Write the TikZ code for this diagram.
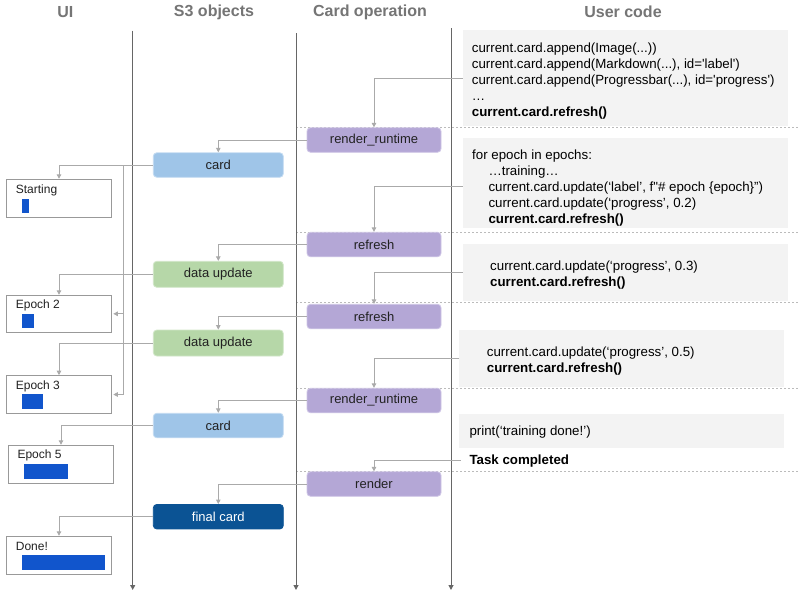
\documentclass[tikz,border=0pt]{standalone}
\usepackage{fontspec}
\usetikzlibrary{arrows.meta}
\newfontfamily\af{Liberation Sans}
\definecolor{purp}{HTML}{B4A7D6}
\definecolor{purpedge}{HTML}{CFC6E6}
\definecolor{cardblue}{HTML}{9FC5E8}
\definecolor{cardedge}{HTML}{C4DCF2}
\definecolor{dugreen}{HTML}{B6D7A8}
\definecolor{duedge}{HTML}{D2E7C9}
\definecolor{finalblue}{HTML}{0B5394}
\definecolor{barblue}{HTML}{1155CC}
\definecolor{conngray}{HTML}{AAAAAA}
\definecolor{axisgray}{HTML}{666666}
\definecolor{dashgray}{HTML}{BBBBBB}
\definecolor{hdrgray}{HTML}{757575}
\definecolor{codebg}{HTML}{F3F3F3}
\definecolor{uiedge}{HTML}{999999}
\definecolor{txt}{HTML}{222222}
\begin{document}
\begin{tikzpicture}[x=1pt,y=-1pt,
  hdr/.style={font=\af\bfseries\fontsize{16}{19}\selectfont, text=hdrgray, inner sep=0},
  axisln/.style={draw=axisgray, line width=1pt, -{Triangle[length=5pt,width=5pt]}},
  dashln/.style={draw=dashgray, line width=0.8pt, dash pattern=on 2pt off 2pt},
  conn/.style={draw=conngray, line width=1pt, -{Triangle[length=4.5pt,width=4.5pt]}},
  boxbase/.style={rectangle, rounded corners=3.5pt, inner sep=0, line width=0.8pt,
    font=\af\fontsize{13}{15.6}\selectfont, text=txt},
  op/.style={boxbase, fill=purp, draw=purpedge, minimum width=134, minimum height=24.5},
  s3card/.style={boxbase, fill=cardblue, draw=cardedge, minimum width=130, minimum height=24.5},
  s3du/.style={boxbase, fill=dugreen, draw=duedge, minimum width=130, minimum height=26},
  s3final/.style={boxbase, fill=finalblue, draw=finalblue, text=white, minimum width=130, minimum height=24.5},
  uibox/.style={rectangle, draw=uiedge, fill=white, line width=1pt, inner sep=0, minimum width=104.6},
  uilbl/.style={anchor=base west, inner sep=0, font=\af\fontsize{12}{14}\selectfont, text=txt},
  codebox/.style={rectangle, fill=codebg, inner sep=0},
  codetxt/.style={anchor=north west, inner sep=0, align=left, font=\af\fontsize{13.3}{16}\selectfont, text=black},
]
\useasboundingbox (0,0) rectangle (800,600);
\fill[white] (0,0) rectangle (800,600);

% headers
\node[hdr] (h1) at (65.3,12) {UI};
\node[hdr] (h2) at (214,12) {S3 objects};
\node[hdr] (h3) at (370,12) {Card operation};
\node[hdr] (h4) at (623,12) {User code};

% dashed separators
\draw[dashln] (296,127.5) -- (800,127.5);
\draw[dashln] (296,232) -- (800,232);
\draw[dashln] (296,302) -- (800,302);
\draw[dashln] (296,388) -- (800,388);
\draw[dashln] (296,471.5) -- (800,471.5);

% axes
\coordinate (a1t) at (132.7,30.7); \coordinate (a1b) at (132.7,590);
\coordinate (a2t) at (296,33);     \coordinate (a2b) at (296,590);
\coordinate (a3t) at (451,28);     \coordinate (a3b) at (451,590);
\draw[axisln] (a1t) -- (a1b);
\draw[axisln] (a2t) -- (a2b);
\draw[axisln] (a3t) -- (a3b);

% code boxes
\node[codebox, minimum width=325, minimum height=96] (code1) at (625.2,78) {};
\node[codebox, minimum width=325, minimum height=90] (code2) at (625.2,183.3) {};
\node[codebox, minimum width=325, minimum height=57] (code3) at (625.2,272.5) {};
\node[codebox, minimum width=324.7, minimum height=56.7] (code4) at (621.7,358.3) {};
\node[codebox, minimum width=324.7, minimum height=33.4] (code5) at (621.7,431) {};

\node[codetxt] (t1) at (471.7,42.5) {current.card.append(Image(...))\\current.card.append(Markdown(...), id='label')\\current.card.append(Progressbar(...), id='progress')\\…\\\textbf{current.card.refresh()}};
\node[codetxt] (t2) at (472,149.8) {for epoch in epochs:\\\hspace*{16.3pt}…training…\\\hspace*{16.3pt}current.card.update(‘label’, f"\# epoch \{epoch\}”)\\\hspace*{16.3pt}current.card.update(‘progress’, 0.2)\\\hspace*{16.3pt}\textbf{current.card.refresh()}};
\node[codetxt] (t3) at (490,260.8) {current.card.update(‘progress’, 0.3)\\\textbf{current.card.refresh()}};
\node[codetxt] (t4) at (486.7,346.8) {current.card.update(‘progress’, 0.5)\\\textbf{current.card.refresh()}};
\node[codetxt] (t5) at (469.3,425.8) {print(‘training done!’)};
\node[anchor=base west, inner sep=0, font=\af\bfseries\fontsize{13.3}{16}\selectfont, text=black] (task) at (469.3,464.8) {Task completed};
\coordinate (taskc) at (460.5,460.8);

% card operations
\node[op] (rr1) at (374,140) {render\_runtime};
\node[op] (ref1) at (374,244.5) {refresh};
\node[op] (ref2) at (374,316.5) {refresh};
\node[op] (rr2) at (374,400.5) {render\_runtime};
\node[op] (rend) at (374,484) {render};

% S3 objects
\node[s3card] (card1) at (218.3,165) {card};
\node[s3du] (du1) at (218.3,274.3) {data update};
\node[s3du] (du2) at (218.3,343) {data update};
\node[s3card] (card2) at (218.3,425.5) {card};
\node[s3final] (final) at (218.3,516.7) {final card};

% UI boxes
\node[uibox, minimum height=38] (start) at (59,198.3) {};
\node[uibox, minimum height=37] (ep2) at (59,313.8) {};
\node[uibox, minimum height=37.6] (ep3) at (59,394.5) {};
\node[uibox, minimum width=105.4, minimum height=38] (ep5) at (61,464.3) {};
\node[uibox, minimum height=38] (done) at (59,555.3) {};
\node[uilbl] (l1) at (15.7,193.3) {Starting};
\node[uilbl] (l2) at (15.7,308.6) {Epoch 2};
\node[uilbl] (l3) at (15.7,389.3) {Epoch 3};
\node[uilbl] (l5) at (17.3,458.6) {Epoch 5};
\node[uilbl] (l6) at (15.7,550) {Done!};
\fill[barblue] (22,198.7) rectangle (28.7,213);
\fill[barblue] (22,313.7) rectangle (34,328.3);
\fill[barblue] (22,394.3) rectangle (43,409);
\fill[barblue] (24,464.3) rectangle (68,478.7);
\fill[barblue] (22,555.3) rectangle (105.3,570);

% connectors
\draw[conn] (code1.west) -| (rr1.north);
\draw[conn] (rr1.west) -| (card1.north);
\draw[conn] (card1.west) -| (start.north);
\coordinate (j1) at (123.3,165);
\draw[conn, shorten >=1.5pt] (j1) |- (ep2.east);
\draw[conn, shorten >=1.5pt] (j1) |- (ep3.east);
\draw[conn] ([yshift=-3.4pt]code2.west) -| (ref1.north);
\draw[conn] (ref1.west) -| (du1.north);
\draw[conn] (du1.west) -| (ep2.north);
\draw[conn] (code3.west) -| (ref2.north);
\draw[conn] (ref2.west) -| (du2.north);
\draw[conn] (du2.west) -| (ep3.north);
\draw[conn] (code4.west) -| (rr2.north);
\draw[conn] (rr2.west) -| (card2.north);
\draw[conn] (card2.west) -| (ep5.north);
\draw[conn] (taskc) -| (rend.north);
\draw[conn] (rend.west) -| (final.north);
\draw[conn] (final.west) -| (done.north);
\end{tikzpicture}
\end{document}
